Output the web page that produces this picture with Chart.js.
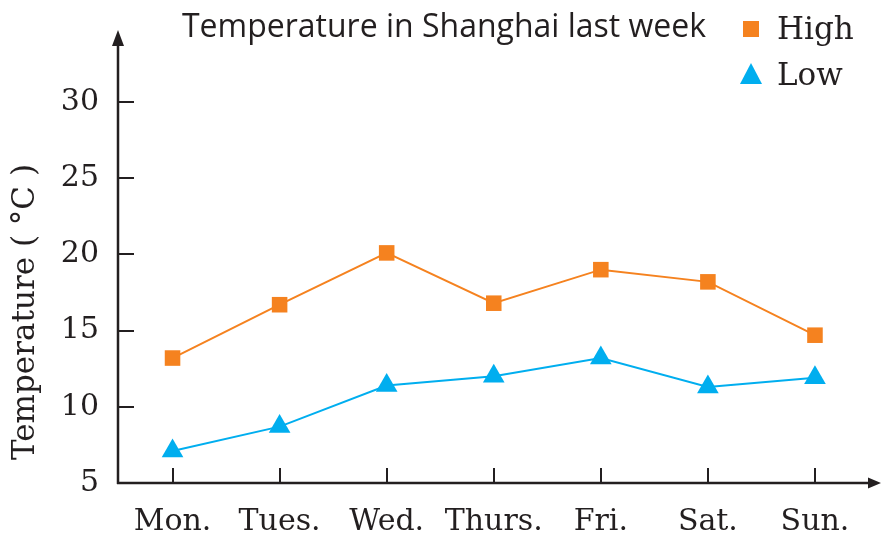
<!DOCTYPE html>
<html>
<head>
<meta charset="utf-8">
<script src="https://cdn.jsdelivr.net/npm/chart.js@4.4.1/dist/chart.umd.min.js"></script>
<style>
html, body { margin: 0; padding: 0; background: #fff; }
#wrap { width: 881px; height: 537px; }
</style>
</head>
<body>
<div id="wrap"><canvas id="tempChart" width="881" height="537"></canvas></div>
<script>
const days = ['Mon.', 'Tues.', 'Wed.', 'Thurs.', 'Fri.', 'Sat.', 'Sun.'];
const highTemps = [13.2, 16.7, 20.1, 16.8, 19.0, 18.2, 14.7];
const lowTemps = [7.1, 8.7, 11.4, 12.0, 13.2, 11.3, 11.9];
const yTicks = [5, 10, 15, 20, 25, 30];
const seriesNames = ['High', 'Low'];

const chartTitle = 'Temperature in Shanghai last week';
const yTitle = 'Temperature ( \u00B0C )';

const ink = '#231f20';
const orange = '#f5821f';
const blue = '#00aeef';
const serif = '"DejaVu Serif", serif';

// axes, arrows, inward ticks, title and legend
const decor = {
    id: 'decor',
    afterDraw(chart) {
        const { ctx, chartArea: a, scales: { x, y } } = chart;
        const ax = a.left - 1;
        ctx.save();
        ctx.strokeStyle = ink;
        ctx.fillStyle = ink;
        ctx.lineWidth = 2.5;

        ctx.beginPath();
        ctx.moveTo(ax, a.bottom + 1);
        ctx.lineTo(ax, 44);
        ctx.moveTo(ax - 1, a.bottom);
        ctx.lineTo(872, a.bottom);
        ctx.stroke();

        ctx.beginPath();
        ctx.moveTo(ax, 30);
        ctx.lineTo(ax + 6, 46);
        ctx.lineTo(ax - 6, 46);
        ctx.closePath();
        ctx.moveTo(881, a.bottom);
        ctx.lineTo(868, a.bottom - 5.5);
        ctx.lineTo(868, a.bottom + 5.5);
        ctx.closePath();
        ctx.fill();

        ctx.lineWidth = 2;
        ctx.beginPath();
        yTicks.forEach(v => {
            if (v === y.min) return;
            const py = Math.round(y.getPixelForValue(v));
            ctx.moveTo(ax, py);
            ctx.lineTo(ax + 16, py);
        });
        days.forEach((d, i) => {
            const px = Math.round(x.getPixelForValue(i));
            ctx.moveTo(px, a.bottom);
            ctx.lineTo(px, a.bottom - 15);
        });
        ctx.stroke();

        // title
        ctx.font = '32px "Open Sans", sans-serif';
        ctx.textAlign = 'center';
        ctx.textBaseline = 'alphabetic';
        ctx.fillText(chartTitle, 444, 37);

        // y axis title
        ctx.save();
        ctx.translate(34, 312);
        ctx.rotate(-Math.PI / 2);
        ctx.font = '31px ' + serif;
        ctx.fillText(yTitle, 0, 0);
        ctx.restore();

        // legend
        ctx.textAlign = 'left';
        ctx.font = '31px ' + serif;
        chart.data.datasets.forEach((ds, i) => {
            const cy = i === 0 ? 29 : 75;
            ctx.fillStyle = ds.backgroundColor;
            ctx.beginPath();
            if (ds.pointStyle === 'rect') {
                ctx.rect(743, cy - 8, 16, 16);
            } else {
                ctx.moveTo(751, cy - 12);
                ctx.lineTo(762, cy + 9);
                ctx.lineTo(740, cy + 9);
                ctx.closePath();
            }
            ctx.fill();
            ctx.fillStyle = ink;
            ctx.fillText(ds.label, 777, cy + 10);
        });
        ctx.restore();
    }
};

new Chart(document.getElementById('tempChart'), {
    type: 'line',
    data: {
        labels: days,
        datasets: [{
            label: seriesNames[0],
            data: highTemps,
            borderColor: orange,
            backgroundColor: orange,
            borderWidth: 2,
            pointStyle: 'rect',
            pointRadius: 11,
            pointBorderWidth: 0,
            tension: 0
        }, {
            label: seriesNames[1],
            data: lowTemps,
            borderColor: blue,
            backgroundColor: blue,
            borderWidth: 2,
            pointStyle: 'triangle',
            pointRadius: 12.5,
            pointBorderWidth: 0,
            tension: 0
        }]
    },
    options: {
        responsive: false,
        animation: false,
        devicePixelRatio: 1,
        clip: false,
        layout: { padding: { top: 35, right: 11, left: 0, bottom: 0 } },
        plugins: {
            legend: { display: false },
            title: { display: false },
            tooltip: { enabled: false }
        },
        scales: {
            x: {
                offset: true,
                grid: { display: false },
                border: { display: false },
                ticks: {
                    color: ink,
                    font: { family: serif, size: 30 },
                    padding: 13,
                    maxRotation: 0,
                    autoSkip: false
                },
                afterFit(scale) { scale.height = 54; }
            },
            y: {
                min: 5,
                max: 34.4,
                grid: { display: false },
                border: { display: false },
                afterBuildTicks(scale) {
                    scale.ticks = yTicks.map(v => ({ value: v }));
                },
                ticks: {
                    color: ink,
                    font: { family: serif, size: 30 },
                    padding: 12
                },
                afterFit(scale) { scale.width = 119; }
            }
        }
    },
    plugins: [decor]
});
</script>
</body>
</html>
